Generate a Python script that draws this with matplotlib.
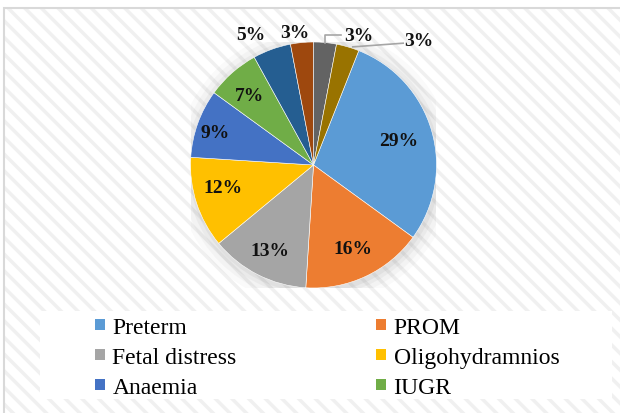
import matplotlib
matplotlib.use("Agg")
import matplotlib.pyplot as plt
import numpy as np
from matplotlib.patches import Rectangle, Circle

categories = ["Preterm", "PROM", "Fetal distress", "Oligohydramnios", "Anaemia",
              "IUGR", "Other 1", "Other 2", "Other 3", "Other 4"]
values = [29, 16, 13, 12, 9, 7, 5, 3, 3, 3]
colors = ["#5B9BD5", "#ED7D31", "#A5A5A5", "#FFC000", "#4472C4",
          "#70AD47", "#255E91", "#9E480E", "#636363", "#997300"]
legend_count = 6

plt.rcParams['font.family'] = ['Liberation Serif', 'DejaVu Serif']
plt.rcParams['hatch.linewidth'] = 2.5

W, H = 620, 414
fig = plt.figure(figsize=(W / 100, H / 100), dpi=100)
fig.patch.set_facecolor('white')

# background with diagonal stripes
bg = Rectangle((4 / W, -0.05), 1.1, 1 - 9 / H + 0.05, transform=fig.transFigure,
               facecolor='white', edgecolor='#f0f0f0', hatch='\\\\', linewidth=0, zorder=-3)
fig.patches.append(bg)
border = Rectangle((4 / W, -0.05), 1.1, 1 - 9 / H + 0.05, transform=fig.transFigure,
                   facecolor='none', edgecolor='#d9d9d9', linewidth=1.5, zorder=-2)
fig.patches.append(border)

# legend box
lb = Rectangle((40 / W, 1 - 400 / H), (612 - 40) / W, (400 - 312) / H, transform=fig.transFigure,
               facecolor='white', edgecolor='none', zorder=-1)
fig.patches.append(lb)

cx, cy, R = 313.5, 166, 123
ax = fig.add_axes([(cx - R) / W, (H - cy - R) / H, 2 * R / W, 2 * R / H])
ax.set_xlim(-1, 1)
ax.set_ylim(-1, 1)
ax.axis('off')

# soft shadow
for r, a in [(1.13, 0.04), (1.09, 0.05), (1.05, 0.07), (1.02, 0.09)]:
    ax.add_patch(Circle((0.01, -0.02), r, facecolor='#808080', alpha=a, edgecolor='none', zorder=1))

start = 90 - 360 * sum(values[-2:]) / sum(values)
wedges, _ = ax.pie(values, colors=colors, startangle=start, counterclock=False,
                   radius=1, wedgeprops=dict(edgecolor='white', linewidth=0.4, zorder=2))
ax.set_xlim(-1, 1)
ax.set_ylim(-1, 1)

label_r = [0.72, 0.75, 0.78, 0.76, 0.84, 0.77, 1.18, 1.09, 1.12, 1.33]
label_dt = [0, 0, 0, -4, 1.5, 1, 6, 2.5, -14, -24]
total = sum(values)
for i, (w, v) in enumerate(zip(wedges, values)):
    mid = (w.theta1 + w.theta2) / 2
    ang = np.deg2rad(mid + label_dt[i])
    x, y = label_r[i] * np.cos(ang), label_r[i] * np.sin(ang)
    ax.text(x, y, f"{round(100 * v / total)}%", ha='center', va='center',
            fontsize=14, fontweight='bold', color='#111111', clip_on=False, zorder=5)

# leader lines for the two right-most small slices
for i in (8, 9):
    w = wedges[i]
    mid = np.deg2rad((w.theta1 + w.theta2) / 2)
    x0, y0 = np.cos(mid), np.sin(mid)
    if i == 8:
        xs = [x0, x0, x0 + 0.13]
        ys = [y0, y0 + 0.065, y0 + 0.065]
    else:
        xs = [x0 + 0.04, x0 + 0.45]
        ys = [y0, y0 + 0.03]
    ax.plot(xs, ys, color='#a6a6a6', linewidth=1.2, clip_on=False, zorder=4)

# row-wise legend order (matplotlib fills columns first)
order = [0, 2, 4, 1, 3, 5]
leg = fig.legend([wedges[k] for k in order], [categories[k] for k in order], ncol=2,
                 loc='upper left', bbox_to_anchor=(95 / W, 1 - 318 / H),
                 frameon=False, fontsize=17, handlelength=0.44, handleheight=0.39,
                 handletextpad=0.3, columnspacing=5.9, labelspacing=0.38,
                 borderpad=0, borderaxespad=0)
for h in leg.legend_handles:
    h.set_edgecolor('none')
    h.set_linewidth(0)

fig.savefig("out.png", dpi=100)
